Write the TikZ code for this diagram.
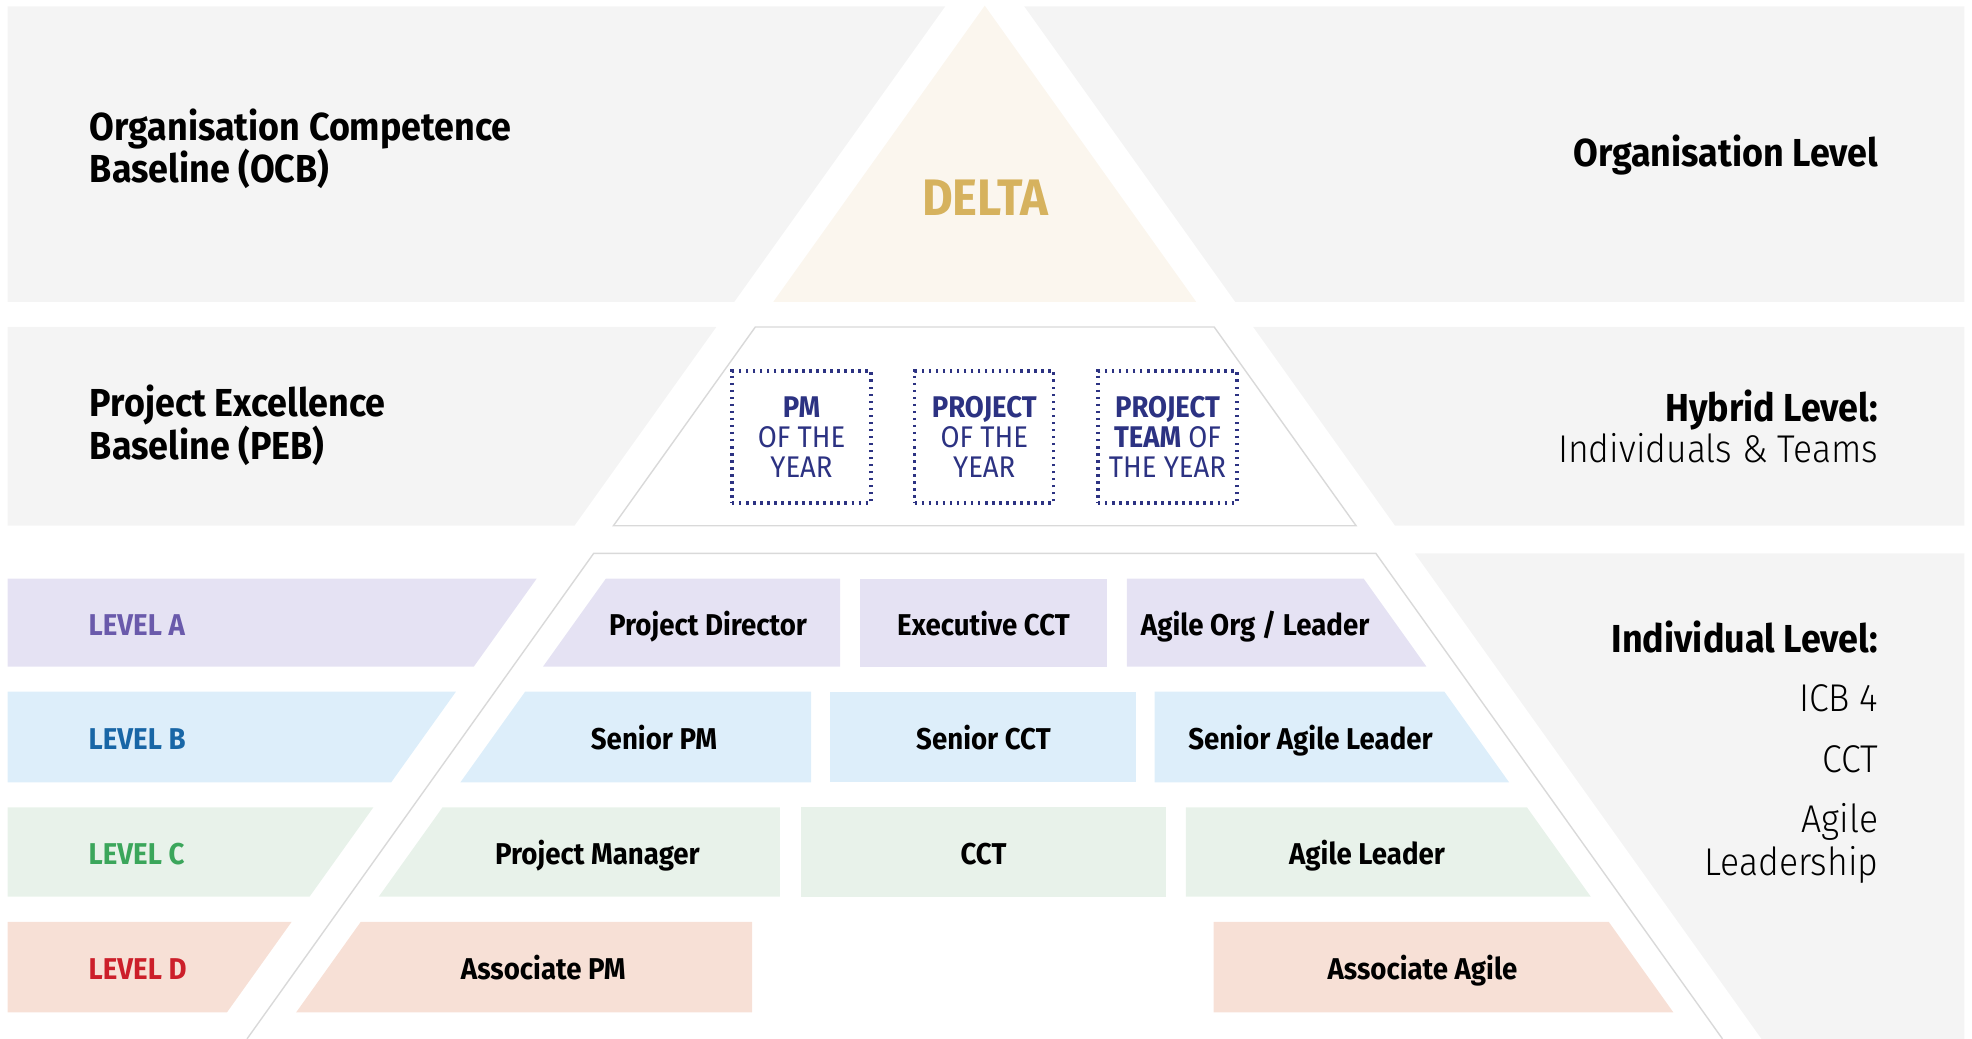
\documentclass[tikz,border=0pt]{standalone}
\usepackage{fontspec}
\setmainfont{Fira Sans}[FakeStretch=0.92]
\newfontfamily\lightfont{Fira Sans Light}[FakeStretch=0.92]
\definecolor{bandgray}{HTML}{F4F4F4}
\definecolor{edgegray}{HTML}{D9D9D9}
\definecolor{cream}{HTML}{FBF6EE}
\definecolor{gold}{HTML}{D6B25E}
\definecolor{navy}{HTML}{2C3282}
\definecolor{levA}{HTML}{E5E2F3}
\definecolor{levAtxt}{HTML}{6A5AAB}
\definecolor{levB}{HTML}{DDEEFA}
\definecolor{levBtxt}{HTML}{1866A6}
\definecolor{levC}{HTML}{E8F2EA}
\definecolor{levCtxt}{HTML}{3BA65B}
\definecolor{levD}{HTML}{F7E0D6}
\definecolor{levDtxt}{HTML}{CC1F2A}
\begin{document}
\begin{tikzpicture}[x=0.012577cm, y=-0.012577cm,
              declare function={hw(\y)=0.714*(\y-4.5);},
              headtxt/.style={font=\fontsize{11.1}{13}\selectfont\bfseries, inner sep=0pt},
              litetxt/.style={font=\fontsize{11}{13}\selectfont\lightfont, inner sep=0pt},
              celltxt/.style={font=\fontsize{8.55}{10}\selectfont\bfseries, inner sep=0pt, anchor=base},
              awardbox/.style={draw=navy, line width=0.9pt, dash pattern=on 0.7pt off 1.3pt,
              text=navy, align=center, font=\fontsize{8.5}{8.6}\selectfont, inner sep=0pt,
              minimum width=1.39cm, minimum height=1.32cm}]
                \useasboundingbox (0,0) rectangle (1568,826);
                % organisation band
                \fill[bandgray] (6,5) -- ({783-hw(5)-31},5) -- ({783-hw(240)-31},240) -- (6,240) -- cycle;
                \fill[bandgray] ({783+hw(5)+31},5) -- (1562,5) -- (1562,240) -- ({783+hw(240)+31},240) -- cycle;
                \fill[cream] (783,4.5) -- ({783+hw(240)},240) -- ({783-hw(240)},240) -- cycle;
                % hybrid band
                \fill[bandgray] (6,260) -- ({783-hw(260)-31},260) -- ({783-hw(418)-31},418) -- (6,418) -- cycle;
                \fill[bandgray] ({783+hw(260)+31},260) -- (1562,260) -- (1562,418) -- ({783+hw(418)+31},418) -- cycle;
                \draw[edgegray, fill=white] ({783-hw(260)},260) -- ({783+hw(260)},260)
                    -- ({783+hw(418)},418) -- ({783-hw(418)},418) -- cycle;
                % individual band
                \fill[bandgray] ({783+hw(440)+31},440) -- (1562,440) -- (1562,826) -- ({783+hw(826)+31},826) -- cycle;
                \draw[edgegray] ({783-hw(826)},826) -- ({783-hw(440)},440) -- ({783+hw(440)},440) -- ({783+hw(826)},826);
                \foreach \r/\t/\b in {A/460/530, B/550/622, C/642/713, D/733/805}{
                    \fill[lev\r] (6,\t) -- ({783-hw(\t)-31},\t) -- ({783-hw(\b)-31},\b) -- (6,\b) -- cycle;
                    \node[celltxt, anchor=base west, text=lev\r txt] (lvl\r) at (70,{(\t+\b)/2+10}) {LEVEL \r};
                };
                \fill[levA] ({783-hw(460)+24},460) -- (668,460) -- (668,530) -- ({783-hw(530)+24},530) -- cycle;
                \fill[levA] (684,460) rectangle (880,530);
                \fill[levA] (896,460) -- ({783+hw(460)-24},460) -- ({783+hw(530)-24},530) -- (896,530) -- cycle;
                \fill[levB] ({783-hw(550)+24},550) -- (645,550) -- (645,622) -- ({783-hw(622)+24},622) -- cycle;
                \fill[levB] (660,550) rectangle (903,622);
                \fill[levB] (918,550) -- ({783+hw(550)-24},550) -- ({783+hw(622)-24},622) -- (918,622) -- cycle;
                \fill[levC] ({783-hw(642)+24},642) -- (620,642) -- (620,713) -- ({783-hw(713)+24},713) -- cycle;
                \fill[levC] (637,642) rectangle (927,713);
                \fill[levC] (943,642) -- ({783+hw(642)-24},642) -- ({783+hw(713)-24},713) -- (943,713) -- cycle;
                \fill[levD] ({783-hw(733)+24},733) -- (598,733) -- (598,805) -- ({783-hw(805)+24},805) -- cycle;
                \fill[levD] (965,733) -- ({783+hw(733)-24},733) -- ({783+hw(805)-24},805) -- (965,805) -- cycle;
                \node[celltxt] (pdir) at (563,505) {Project Director};
                \node[celltxt] (execcct) at (782,505) {Executive CCT};
                \node[celltxt] (agileorg) at (998,505) {Agile Org / Leader};
                \node[celltxt] (seniorpm) at (520,596) {Senior PM};
                \node[celltxt] (seniorcct) at (782,596) {Senior CCT};
                \node[celltxt] (senioragile) at (1042,596) {Senior Agile Leader};
                \node[celltxt] (projman) at (475,687.5) {Project Manager};
                \node[celltxt] (cct) at (782,687.5) {CCT};
                \node[celltxt] (agilelead) at (1087,687.5) {Agile Leader};
                \node[celltxt] (assocpm) at (432,779) {Associate PM};
                \node[celltxt] (assocagile) at (1131,779) {Associate Agile};
                % pyramid top
                \node[font=\fontsize{14.6}{16}\selectfont\bfseries, text=gold, inner sep=0pt] (delta) at (783.5,157) {DELTA};
                \node[awardbox] (pmyear) at (637.3,347.5) {\textbf{PM}\\OF THE\\YEAR};
                \node[awardbox] (projyear) at (782.6,347.5) {\textbf{PROJECT}\\OF THE\\YEAR};
                \node[awardbox] (teamyear) at (928.3,347.5) {\textbf{PROJECT}\\\textbf{TEAM} OF\\THE YEAR};
                % side texts
                \node[headtxt, anchor=base west] (ocb1) at (71,111.5) {Organisation Competence};
                \node[headtxt, anchor=base west] (ocb2) at (71,145) {Baseline (OCB)};
                \node[headtxt, anchor=base west] (peb1) at (71,331.5) {Project Excellence};
                \node[headtxt, anchor=base west] (peb2) at (71,365) {Baseline (PEB)};
                \node[headtxt, anchor=base east] (orglevel) at (1494,132) {Organisation Level};
                \node[headtxt, anchor=base east] (hybrid) at (1494,335) {Hybrid Level:};
                \node[litetxt, anchor=base east] (teams) at (1494,368) {Individuals \& Teams};
                \node[headtxt, anchor=base east] (indiv) at (1494,518.8) {Individual Level:};
                \node[litetxt, anchor=base east] (icb) at (1494,566) {ICB 4};
                \node[litetxt, anchor=base east] (cctside) at (1494,614.6) {CCT};
                \node[litetxt, anchor=base east] (agileside) at (1494,661.8) {Agile};
                \node[litetxt, anchor=base east] (leadside) at (1494,696.5) {Leadership};
            \end{tikzpicture}
\end{document}
